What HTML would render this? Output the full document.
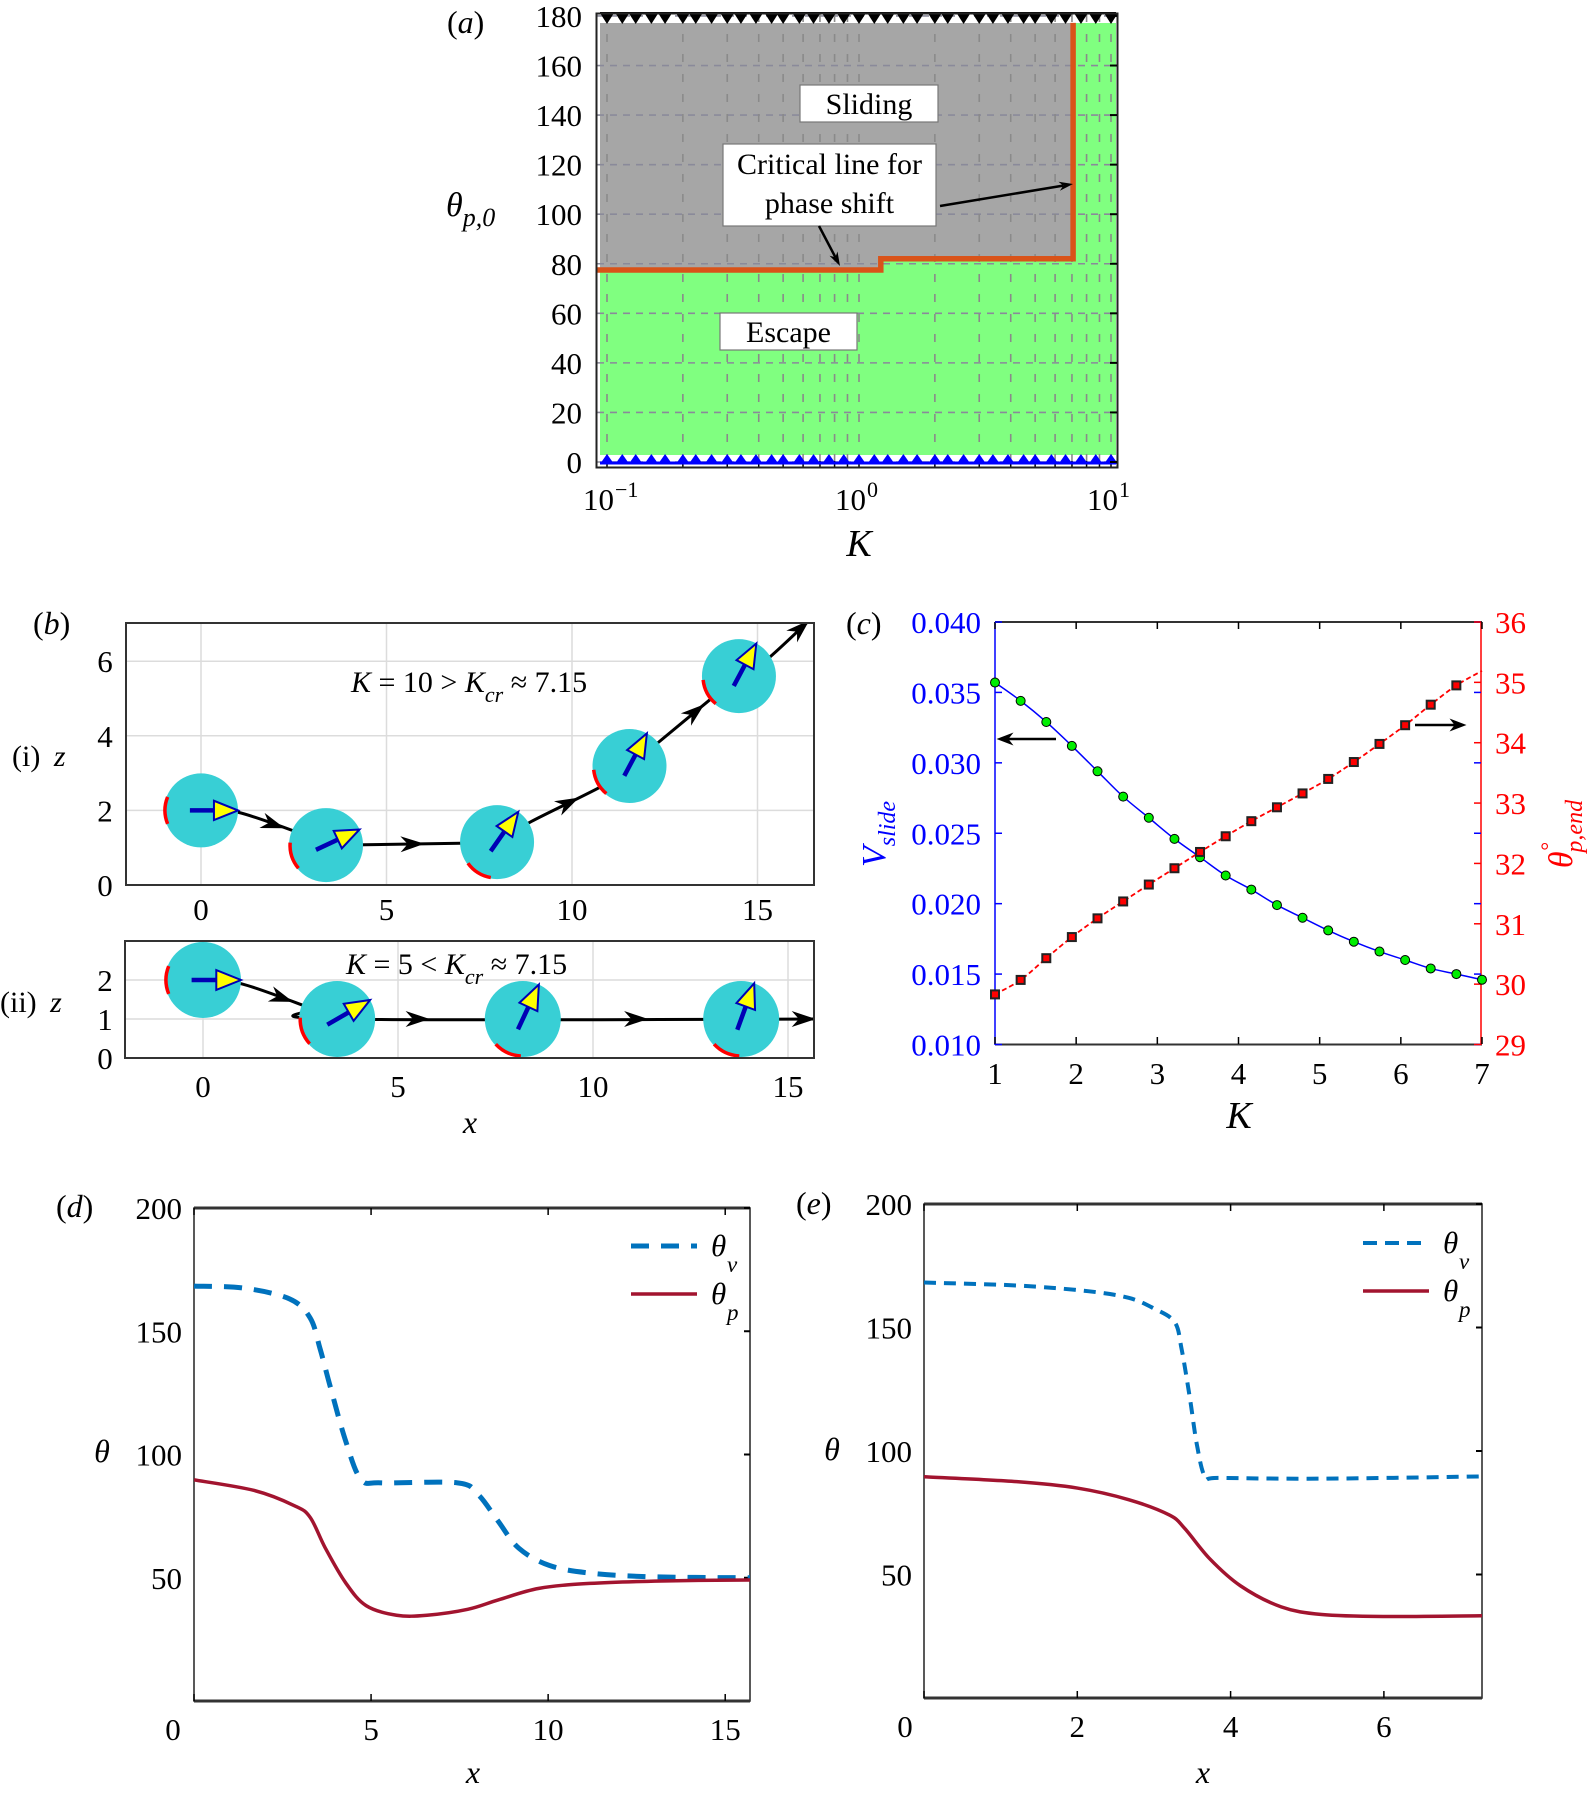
<!DOCTYPE html>
<html><head><meta charset="utf-8">
<style>
html,body{margin:0;padding:0;background:#fff;}
svg{display:block;font-family:"Liberation Serif","DejaVu Serif",serif;}
.t{font-size:31px;}
.it{font-style:italic;}
</style></head>
<body>
<svg id="figure" width="1595" height="1795" viewBox="0 0 1595 1795" xmlns="http://www.w3.org/2000/svg">
<defs>
<clipPath id="clipBi"><rect x="126" y="623" width="688" height="262"/></clipPath>
<clipPath id="clipBii"><rect x="125" y="941" width="689" height="117"/></clipPath>
<clipPath id="clipD"><rect x="194" y="1208" width="556" height="493"/></clipPath>
<clipPath id="clipE"><rect x="924" y="1204" width="558" height="494"/></clipPath>
</defs>
<g id="pa"></g>
<g id="pb"></g>
<g id="pc"></g>
<g id="pd"></g>
<g id="pe"></g>

<text x="447" y="33" style="font-size:32px">(<tspan font-style="italic">a</tspan>)</text>
<text x="446" y="216" style="font-size:34px;font-style:italic">θ<tspan dy="10" style="font-size:26px">p,0</tspan></text>
<text x="859" y="556" text-anchor="middle" style="font-size:38px;font-style:italic">K</text>
<text x="33" y="634" style="font-size:32px">(<tspan font-style="italic">b</tspan>)</text>
<text x="12" y="766" style="font-size:30px">(i) <tspan font-style="italic" dx="6">z</tspan></text>
<text x="0" y="1012" style="font-size:30px">(ii) <tspan font-style="italic" dx="6">z</tspan></text>
<text x="470" y="1133" text-anchor="middle" style="font-size:32px;font-style:italic">x</text>
<text x="351" y="692" style="font-size:30px"><tspan font-style="italic">K</tspan> = 10 &gt; <tspan font-style="italic">K</tspan><tspan font-style="italic" dy="10" style="font-size:22px">cr</tspan><tspan dy="-10"> ≈ 7.15</tspan></text>
<text x="346" y="974" style="font-size:30px"><tspan font-style="italic">K</tspan> = 5 &lt; <tspan font-style="italic">K</tspan><tspan font-style="italic" dy="10" style="font-size:22px">cr</tspan><tspan dy="-10"> ≈ 7.15</tspan></text>
<text x="846" y="634" style="font-size:32px">(<tspan font-style="italic">c</tspan>)</text>
<text x="1239" y="1128" text-anchor="middle" style="font-size:38px;font-style:italic">K</text>
<text transform="translate(885,834) rotate(-90)" text-anchor="middle" style="font-size:34px;font-style:italic;fill:#0000ff">V<tspan dy="10" style="font-size:24px">slide</tspan></text>
<text transform="translate(1572,834) rotate(-90)" text-anchor="middle" style="font-size:34px;font-style:italic;fill:#ff0000">θ<tspan dy="-16" style="font-size:22px">°</tspan><tspan dx="-10" dy="26" style="font-size:24px">p,end</tspan></text>
<text x="56" y="1217" style="font-size:32px">(<tspan font-style="italic">d</tspan>)</text>
<text x="102" y="1462" text-anchor="middle" style="font-size:32px;font-style:italic">θ</text>
<text x="473" y="1783" text-anchor="middle" style="font-size:32px;font-style:italic">x</text>
<text x="796" y="1214" style="font-size:32px">(<tspan font-style="italic">e</tspan>)</text>
<text x="832" y="1460" text-anchor="middle" style="font-size:32px;font-style:italic">θ</text>
<text x="1203" y="1783" text-anchor="middle" style="font-size:32px;font-style:italic">x</text>
</svg>
<script>
const aCritK = [0.0905, 1.22, 1.22, 7.07, 7.07];
const aCritTheta = [77.5, 77.5, 82, 82, 177.2];
const aMarkerK = [0.1,0.115,0.13,0.15,0.17,0.2,0.225,0.26,0.3,0.34,0.39,0.45,0.5,0.58,0.66,0.76,0.87,1,1.15,1.3,1.5,1.7,2,2.25,2.6,3,3.4,3.9,4.5,5,5.8,6.6,7.6,8.7,10];
const aYTicks = [0,20,40,60,80,100,120,140,160,180];
const aXGrid = [0.1,0.2,0.3,0.4,0.5,0.6,0.7,0.8,0.9,1,2,3,4,5,6,7,8,9,10];
const aXMajor = [0.1,1,10];
const aXMajorExp = ['−1','0','1'];
const biX = [0, 3.37, 7.98, 11.55, 14.5];
const biZ = [2, 1.07, 1.15, 3.19, 5.6];
const biOrient = [0, 25, 55, 62, 62];
const biPatch = [180, 198, 238, 208, 208];
const biPathX = [0,1.0,2.9,3.37,4.4,7.0,7.98,8.9,10.9,11.55,12.3,14.0,14.5,15.2,16.4];
const biPathZ = [2,1.95,1.3,1.07,1.08,1.12,1.15,1.7,2.7,3.19,3.8,5.2,5.6,6.0,7.1];
const biHeadSeg = [1,4,7,10,13];
const biHeadT = [0.5,0.5,0.5,0.6,0.8];
const biXTicks = [0,5,10,15];
const biYTicks = [0,2,4,6];
const biiX = [0, 3.44, 8.2, 13.8];
const biiZ = [2, 1.0, 1.0, 1.0];
const biiOrient = [0, 30, 65, 70];
const biiPatch = [180, 200, 245, 245];
const biiPathX = [0,1.0,2.7,3.44,16.5];
const biiPathZ = [2,1.9,1.3,1.0,1.0];
const biiHeadSeg = [1,3,3,3];
const biiHeadT = [0.6,0.158,0.587,0.916];
const biiXTicks = [0,5,10,15];
const biiYTicks = [0,1,2];
const cKV = [1,1.316,1.632,1.947,2.263,2.579,2.895,3.211,3.526,3.842,4.158,4.474,4.789,5.105,5.421,5.737,6.053,6.368,6.684,7];
const cVslide = [0.0357,0.0344,0.0329,0.0312,0.0294,0.0276,0.0261,0.0246,0.0233,0.0220,0.0210,0.0199,0.0190,0.0181,0.0173,0.0166,0.0160,0.0154,0.0150,0.0146];
const cKT = [1,1.316,1.632,1.947,2.263,2.579,2.895,3.211,3.526,3.842,4.158,4.474,4.789,5.105,5.421,5.737,6.053,6.368,6.684];
const cTheta = [29.83,30.07,30.43,30.78,31.09,31.37,31.65,31.92,32.19,32.45,32.70,32.93,33.16,33.40,33.68,33.98,34.29,34.63,34.95];
const cThetaEndK = 7, cThetaEnd = 35.19;
const cXTicks = [1,2,3,4,5,6,7];
const cLTicks = [0.010,0.015,0.020,0.025,0.030,0.035,0.040];
const cLTickLabels = ['0.010','0.015','0.020','0.025','0.030','0.035','0.040'];
const cRTicks = [29,30,31,32,33,34,35,36];
const dVX = [0,1.41,2.70,3.28,3.56,3.85,4.28,4.71,5.29,7.44,8.02,8.59,9.17,10.03,11.18,12.9,15.7];
const dVY = [168.3,167.5,163.1,155.4,142.9,127.4,105.6,90,88.5,88.5,83.8,72.9,62,55,51.9,50.4,50];
const dPX = [0,1.7,2.84,3.28,3.71,4.28,4.86,5.72,6.58,7.73,8.59,9.74,11.18,13.2,15.7];
const dPY = [89.7,85.4,79.2,74.5,62,48,38.7,34.8,34.8,37.2,41,45.7,47.7,48.7,49.1];
const dXTicks = [0,5,10,15];
const dYTicks = [50,100,150,200];
const eVX = [0,1.21,2.14,2.67,3.0,3.27,3.36,3.47,3.56,3.67,3.86,5.19,7.28];
const eVY = [168.2,167,164.7,162,157.7,152.2,141.4,121.2,102.6,89.4,89.1,88.8,89.7];
const ePX = [0,1.21,2.0,2.67,3.2,3.4,3.73,4.13,4.66,5.19,5.99,7.28];
const ePY = [89.6,87.6,85,80.3,74.1,68.7,56.3,45.4,36.9,33.8,33,33.3];
const eXTicks = [0,2,4,6];
const eYTicks = [50,100,150,200];

const NS = 'http://www.w3.org/2000/svg';
function mk(tag, attrs, parent){ const e = document.createElementNS(NS, tag); for (const k in attrs) e.setAttribute(k, attrs[k]); parent.appendChild(e); return e; }
function smooth(pts){
  let d = 'M' + pts[0][0].toFixed(2) + ',' + pts[0][1].toFixed(2);
  for (let i = 0; i < pts.length - 1; i++) {
    const p0 = pts[Math.max(0,i-1)], p1 = pts[i], p2 = pts[i+1], p3 = pts[Math.min(pts.length-1,i+2)];
    const c1 = [p1[0]+(p2[0]-p0[0])/6, p1[1]+(p2[1]-p0[1])/6];
    const c2 = [p2[0]-(p3[0]-p1[0])/6, p2[1]-(p3[1]-p1[1])/6];
    d += ' C' + c1.map(v=>v.toFixed(2)).join(',') + ' ' + c2.map(v=>v.toFixed(2)).join(',') + ' ' + p2.map(v=>v.toFixed(2)).join(',');
  }
  return d;
}
function arrowHead(x, y, ang, len, wid, fill, parent){
  const c = Math.cos(ang), s = Math.sin(ang);
  const tip = [x + c*len/2, y + s*len/2];
  const back = [x - c*len/2, y - s*len/2];
  const notch = [x - c*len*0.2, y - s*len*0.2];
  const l = [back[0] - s*wid/2, back[1] + c*wid/2];
  const r = [back[0] + s*wid/2, back[1] - c*wid/2];
  return mk('polygon', {points: [tip,l,notch,r].map(p=>p[0].toFixed(1)+','+p[1].toFixed(1)).join(' '), fill: fill}, parent);
}

(function(){
  const g = document.getElementById('pa');
  const xa = v => 607 + 252*Math.log10(v/0.1);
  const ya = v => 462 - 2.478*v;
  const bg = mk('rect', {x:600, y:23, width:516, height:432, fill:'#80ff80'}, g);
  
  
  const n = aCritK.length;
  const pts = [[600, 23], [xa(aCritK[n-1]), 23]];
  for (let i = n-1; i >= 0; i--) pts.push([Math.max(600, xa(aCritK[i])), ya(aCritTheta[i])]);
  const gr = mk('polygon', {points: pts.map(p=>p.join(',')).join(' '), fill:'#a6a6a6'}, g);
  
  
  aYTicks.forEach(v => {
    const l = mk('line', {x1:597, x2:1117, y1:ya(v), y2:ya(v), stroke:'#8a8a9a', 'stroke-width':1.6, 'stroke-dasharray':'7,6'}, g);
    
    
  });
  aXGrid.forEach(v => {
    const l = mk('line', {x1:xa(v), x2:xa(v), y1:14, y2:467, stroke:'#8a8a8a', 'stroke-width':1.6, 'stroke-dasharray':'8,12'}, g);
    
    
    const t1 = mk('line', {x1:xa(v), x2:xa(v), y1:468, y2:461, stroke:'#000', 'stroke-width':1.5}, g);
    
    
  });
  const cd = aCritK.map((k,i)=> (i? 'L':'M') + Math.max(597, xa(k)).toFixed(1) + ',' + ya(aCritTheta[i]).toFixed(1)).join(' ');
  const cl = mk('path', {d: cd, fill:'none', stroke:'#d95319', 'stroke-width':5.5}, g);
  
  
  aMarkerK.forEach(k => {
    const x = xa(k), y = ya(180);
    const tri = mk('polygon', {points: `${x-7},${y-3} ${x+7},${y-3} ${x},${y+8}`, fill:'#000'}, g);
    
    
    const y0 = ya(0);
    const tb = mk('polygon', {points: `${x-7},${y0+2} ${x+7},${y0+2} ${x},${y0-8}`, fill:'#0000ff'}, g);
    
    
  });
  const tl = mk('line', {x1:600, x2:1116, y1:ya(180)-3, y2:ya(180)-3, stroke:'#000', 'stroke-width':2}, g);
  
  
  const bl = mk('line', {x1:600, x2:1116, y1:ya(0)+1, y2:ya(0)+1, stroke:'#0000ff', 'stroke-width':3}, g);
  
  
  const box = mk('rect', {x:596.5, y:13.5, width:521, height:454, fill:'none', stroke:'#222', 'stroke-width':2}, g);
  
  
  aYTicks.forEach(v => {
    const t = mk('text', {x:582, y:ya(v)+11, 'text-anchor':'end', class:'t'}, g);
    t.textContent = String(v);
    
    
    const tk = mk('line', {x1:1117, x2:1110, y1:ya(v), y2:ya(v), stroke:'#000', 'stroke-width':2}, g);
    
    
  });
  aXMajor.forEach((v,i) => {
    const t = mk('text', {x:xa(v)-24, y:510, class:'t'}, g);
    t.textContent = '10';
    
    
    const s = mk('text', {x:xa(v)+8, y:497, style:'font-size:22px'}, g);
    s.textContent = aXMajorExp[i];
    
    
  });
  const boxes = [
    ['sliding-label', 800, 85, 138, 37, ['Sliding'], [114]],
    ['critical-line-label', 723, 144, 213, 82, ['Critical line for','phase shift'], [174, 213]],
    ['escape-label', 720, 313, 137, 37, ['Escape'], [342]]
  ];
  boxes.forEach(b => {
    const r = mk('rect', {x:b[1], y:b[2], width:b[3], height:b[4], fill:'#fff', stroke:'#777', 'stroke-width':1.2}, g);
    
    
    b[5].forEach((line, j) => {
      const t = mk('text', {x:b[1]+b[3]/2, y:b[6][j], 'text-anchor':'middle', style:'font-size:30px'}, g);
      t.textContent = line;
      
      
    });
  });
  [[940,206,1073,184],[819,226,840,266]].forEach(a => {
    const ang = Math.atan2(a[3]-a[1], a[2]-a[0]);
    const l = mk('line', {x1:a[0], y1:a[1], x2:a[2]-Math.cos(ang)*10, y2:a[3]-Math.sin(ang)*10, stroke:'#000', 'stroke-width':2.5}, g);
    
    
    const h = arrowHead(a[2]-Math.cos(ang)*7, a[3]-Math.sin(ang)*7, ang, 14, 9, '#000', g);
    
    
  });
})();

function drawSwimmers(g, X, Z, orient, patch, pathX, pathZ, headSeg, headT, sx, sy, r, clip, prefix){
  const gg = mk('g', {'clip-path': 'url(#' + clip + ')'}, g);
  const pts = pathX.map((x,i)=>[sx(x), sy(pathZ[i])]);
  const tr = mk('path', {d: smooth(pts), fill:'none', stroke:'#000', 'stroke-width':3}, gg);
  
  
  headSeg.forEach((s,i) => {
    const p1 = pts[s], p2 = pts[s+1], t = headT[i];
    const x = p1[0] + (p2[0]-p1[0])*t, y = p1[1] + (p2[1]-p1[1])*t;
    const h = arrowHead(x, y, Math.atan2(p2[1]-p1[1], p2[0]-p1[0]), 24, 16, '#000', gg);
    
    
  });
  X.forEach((x,i) => {
    const cx = sx(x), cy = sy(Z[i]);
    const c = mk('circle', {cx:cx, cy:cy, r:r, fill:'#38cfd5'}, gg);
    
    
    const pa = patch[i]*Math.PI/180, w = 22*Math.PI/180;
    const a1 = pa - w, a2 = pa + w;
    const rr = r - 1;
    const arc = mk('path', {d:`M${cx+rr*Math.cos(a1)},${cy-rr*Math.sin(a1)} A${rr},${rr} 0 0 0 ${cx+rr*Math.cos(a2)},${cy-rr*Math.sin(a2)}`, fill:'none', stroke:'#ff0000', 'stroke-width':3.5}, gg);
    
    
    const o = orient[i]*Math.PI/180, c1 = Math.cos(o), s1 = -Math.sin(o);
    const sh = mk('line', {x1:cx - c1*r*0.3, y1:cy - s1*r*0.3, x2:cx + c1*r*0.45, y2:cy + s1*r*0.45, stroke:'#0000b5', 'stroke-width':4.5}, gg);
    
    
    const tip = [cx + c1*r, cy + s1*r], b = [cx + c1*r*0.35, cy + s1*r*0.35];
    const hw = r*0.26;
    const tp = mk('polygon', {points:`${tip[0]},${tip[1]} ${b[0]-s1*hw},${b[1]+c1*hw} ${b[0]+s1*hw},${b[1]-c1*hw}`, fill:'#ffff00', stroke:'#0000b5', 'stroke-width':2}, gg);
    
    
  });
}
(function(){
  const g = document.getElementById('pb');
  const sx = v => 201 + 37.1*v, sy = v => 885 - 37.3*v;
  biXTicks.forEach(v => {
    const l = mk('line', {x1:sx(v), x2:sx(v), y1:623, y2:885, stroke:'#dcdcdc', 'stroke-width':1.5}, g);
    
    
    const t = mk('text', {x:sx(v), y:920, 'text-anchor':'middle', class:'t'}, g);
    t.textContent = String(v);
    
    
  });
  biYTicks.forEach(v => {
    const l = mk('line', {x1:126, x2:814, y1:sy(v), y2:sy(v), stroke:'#dcdcdc', 'stroke-width':1.5}, g);
    
    
    const t = mk('text', {x:105, y:sy(v)+11, 'text-anchor':'middle', class:'t'}, g);
    t.textContent = String(v);
    
    
  });
  drawSwimmers(g, biX, biZ, biOrient, biPatch, biPathX, biPathZ, biHeadSeg, biHeadT, sx, sy, 37, 'clipBi', 'bi');
  const b1 = mk('rect', {x:126, y:623, width:688, height:262, fill:'none', stroke:'#333', 'stroke-width':2}, g);
  
  
  const tx = v => 203 + 39*v, ty = v => 1058 - 39*v;
  biiXTicks.forEach(v => {
    const l = mk('line', {x1:tx(v), x2:tx(v), y1:941, y2:1058, stroke:'#dcdcdc', 'stroke-width':1.5}, g);
    
    
    const t = mk('text', {x:tx(v), y:1097, 'text-anchor':'middle', class:'t'}, g);
    t.textContent = String(v);
    
    
  });
  biiYTicks.forEach(v => {
    const l = mk('line', {x1:125, x2:814, y1:ty(v), y2:ty(v), stroke:'#dcdcdc', 'stroke-width':1.5}, g);
    
    
    const t = mk('text', {x:105, y:ty(v)+11, 'text-anchor':'middle', class:'t'}, g);
    t.textContent = String(v);
    
    
  });
  drawSwimmers(g, biiX, biiZ, biiOrient, biiPatch, biiPathX, biiPathZ, biiHeadSeg, biiHeadT, tx, ty, 38, 'clipBii', 'bii');
  const b2 = mk('rect', {x:125, y:941, width:689, height:117, fill:'none', stroke:'#333', 'stroke-width':2}, g);
  
  
})();

(function(){
  const g = document.getElementById('pc');
  const xc = v => 995 + (v-1)*(487/6);
  const yL = v => 622 + (0.040 - v)/0.030*422.5;
  const yR = v => 622 + (36 - v)/7*422.5;
  const top = mk('line', {x1:995, x2:1482, y1:622, y2:622, stroke:'#333', 'stroke-width':2}, g);
  
  
  const bot = mk('line', {x1:995, x2:1482, y1:1044.5, y2:1044.5, stroke:'#333', 'stroke-width':2}, g);
  
  
  const la = mk('line', {x1:995, x2:995, y1:622, y2:1045, stroke:'#0000ff', 'stroke-width':1.5}, g);
  
  
  const ra = mk('line', {x1:1481, x2:1481, y1:622, y2:1045, stroke:'#ff0000', 'stroke-width':1.5}, g);
  
  
  cXTicks.forEach(v => {
    const tk = mk('line', {x1:xc(v), x2:xc(v), y1:1044, y2:1037, stroke:'#000', 'stroke-width':1.5}, g);
    
    
    const tk2 = mk('line', {x1:xc(v), x2:xc(v), y1:622, y2:629, stroke:'#000', 'stroke-width':1.5}, g);
    
    
    const t = mk('text', {x:xc(v), y:1084, 'text-anchor':'middle', class:'t'}, g);
    t.textContent = String(v);
    
    
  });
  cLTicks.forEach((v,i) => {
    const tk = mk('line', {x1:995, x2:1002, y1:yL(v), y2:yL(v), stroke:'#0000ff', 'stroke-width':1.5}, g);
    
    
    const tk2 = mk('line', {x1:1481, x2:1474, y1:yL(v), y2:yL(v), stroke:'#0000ff', 'stroke-width':1.5}, g);
    
    
    const t = mk('text', {x:981, y:yL(v)+11, 'text-anchor':'end', class:'t', style:'fill:#0000ff'}, g);
    t.textContent = cLTickLabels[i];
    
    
  });
  cRTicks.forEach(v => {
    const tk = mk('line', {x1:1481, x2:1474, y1:yR(v), y2:yR(v), stroke:'#ff0000', 'stroke-width':1.5}, g);
    
    
    const t = mk('text', {x:1495, y:yR(v)+11, class:'t', style:'fill:#ff0000'}, g);
    t.textContent = String(v);
    
    
  });
  const vpts = cKV.map((k,i)=>[xc(k), yL(cVslide[i])]);
  const vl = mk('path', {d: smooth(vpts), fill:'none', stroke:'#0000ff', 'stroke-width':1.5}, g);
  
  
  const tpts = cKT.map((k,i)=>[xc(k), yR(cTheta[i])]);
  tpts.push([xc(cThetaEndK), yR(cThetaEnd)]);
  const tl = mk('path', {d: smooth(tpts), fill:'none', stroke:'#ff0000', 'stroke-width':1.8, 'stroke-dasharray':'5,3'}, g);
  
  
  cKV.forEach((k,i) => {
    const c = mk('circle', {cx:xc(k), cy:yL(cVslide[i]), r:4.5, fill:'#00ee00', stroke:'#000', 'stroke-width':1}, g);
    
    
  });
  cKT.forEach((k,i) => {
    const r = mk('rect', {x:xc(k)-4, y:yR(cTheta[i])-4, width:8, height:8, fill:'#ff0000', stroke:'#222', 'stroke-width':2}, g);
    
    
  });
  [[1056,739,997,739],[1415,725,1466,725]].forEach(a => {
    const ang = Math.atan2(a[3]-a[1], a[2]-a[0]);
    const l = mk('line', {x1:a[0], y1:a[1], x2:a[2]-Math.cos(ang)*10, y2:a[3], stroke:'#000', 'stroke-width':2.5}, g);
    
    
    const h = arrowHead(a[2]-Math.cos(ang)*8, a[3], ang, 17, 13, '#000', g);
    
    
  });
})();

function drawTheta(g, L, R, T, B, xmax, clip, vx, vy, px, py, xt, yt, zeroOff, legX, legY, dash, prefix){
  const sx = v => L + (R-L)*v/xmax;
  const sy = v => B - (B-T)*v/200;
  const box = mk('rect', {x:L, y:T, width:R-L, height:B-T, fill:'none', stroke:'#222', 'stroke-width':1.5}, g);
  
  
  [T, B].forEach(y => {
    const l = mk('line', {x1:L, x2:R, y1:y, y2:y, stroke:'#333', 'stroke-width':3}, g);
    
    
  });
  xt.forEach((v,i) => {
    [[B, B-7],[T, T+7]].forEach(p => {
      const tk = mk('line', {x1:sx(v), x2:sx(v), y1:p[0], y2:p[1], stroke:'#000', 'stroke-width':1.5}, g);
      
      
    });
    const t = mk('text', {x:sx(v) + (i===0 ? zeroOff : 0), y:B+39, 'text-anchor':'middle', class:'t'}, g);
    t.textContent = String(v);
    
    
  });
  yt.forEach(v => {
    const tk = mk('line', {x1:R, x2:R-6, y1:sy(v), y2:sy(v), stroke:'#000', 'stroke-width':2}, g);
    
    
    const t = mk('text', {x:L-12, y:sy(v)+11, 'text-anchor':'end', class:'t'}, g);
    t.textContent = String(v);
    
    
  });
  const gg = mk('g', {'clip-path':'url(#' + clip + ')'}, g);
  const vl = mk('path', {d: smooth(vx.map((x,i)=>[sx(x), sy(vy[i])])), fill:'none', stroke:'#0072bd', 'stroke-width':dash[0], 'stroke-dasharray':dash[1]}, gg);
  
  
  const pl = mk('path', {d: smooth(px.map((x,i)=>[sx(x), sy(py[i])])), fill:'none', stroke:'#a2142f', 'stroke-width':3.5}, gg);
  
  
  const l1 = mk('line', {x1:legX, x2:legX+66, y1:legY, y2:legY, stroke:'#0072bd', 'stroke-width':dash[0], 'stroke-dasharray':dash[2]}, g);
  
  
  const t1 = mk('text', {x:legX+80, y:legY+10, style:'font-size:31px;font-style:italic'}, g);
  t1.textContent = 'θ';
  
  
  const s1 = mk('text', {x:legX+96, y:legY+26, style:'font-size:23px;font-style:italic'}, g);
  s1.textContent = 'v';
  
  
  const l2 = mk('line', {x1:legX, x2:legX+66, y1:legY+48, y2:legY+48, stroke:'#a2142f', 'stroke-width':3.5}, g);
  
  
  const t2 = mk('text', {x:legX+80, y:legY+58, style:'font-size:31px;font-style:italic'}, g);
  t2.textContent = 'θ';
  
  
  const s2 = mk('text', {x:legX+96, y:legY+74, style:'font-size:23px;font-style:italic'}, g);
  s2.textContent = 'p';
  
  
}
drawTheta(document.getElementById('pd'), 194, 750, 1208, 1701, 15.7, 'clipD', dVX, dVY, dPX, dPY, dXTicks, dYTicks, -21, 631, 1246, [5, '18,12', '18,12'], 'd');
drawTheta(document.getElementById('pe'), 924, 1482, 1204, 1698, 7.28, 'clipE', eVX, eVY, ePX, ePY, eXTicks, eYTicks, -19, 1363, 1243, [4, '12,8', '14,8'], 'e');
</script>
</body></html>
